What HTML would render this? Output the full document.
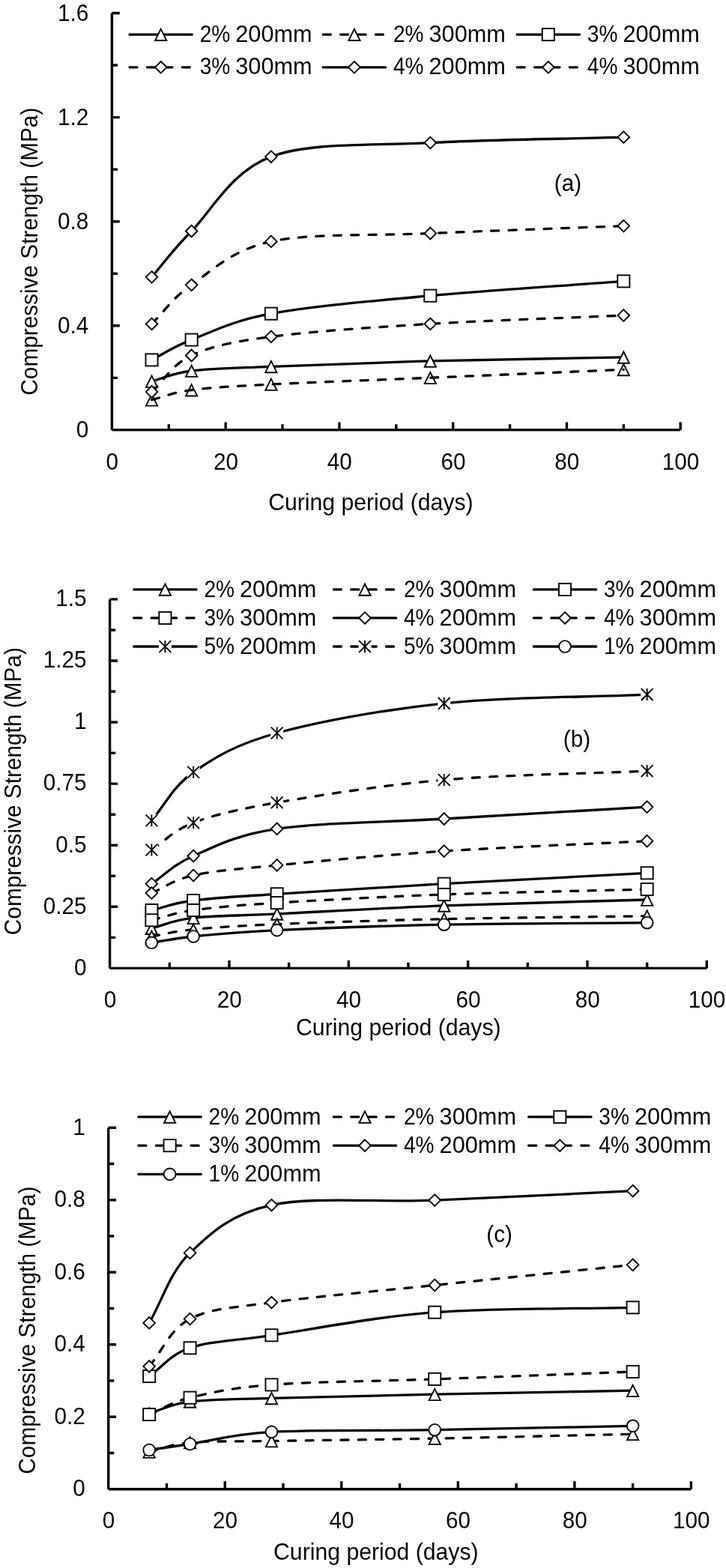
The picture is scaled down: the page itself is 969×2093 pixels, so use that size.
<!DOCTYPE html>
<html lang="en"><head><meta charset="utf-8"><title>Compressive strength vs curing period</title>
<style>html,body{margin:0;padding:0;background:#fff}svg{display:block}text{font-family:"Liberation Sans",Arial,sans-serif;fill:#050505}</style></head><body>
<svg width="969" height="2093" viewBox="0 0 969 2093">
<rect width="969" height="2093" fill="#fff"/>
<g>
<path d="M202.52 509 C220.22 504.33 229.07 498.28 255.63 495 C282.19 491.72 308.75 491.48 361.86 489.3 C414.98 487.12 495.92 483.97 574.33 481.9 C652.74 479.83 746.32 478.57 832.32 476.9" fill="none" stroke="#050505" stroke-width="3.3" stroke-linecap="round"/>
<path d="M202.52 501.6 L210.12 516.9 L194.92 516.9 Z" fill="#fff" stroke="#050505" stroke-width="1.9" stroke-linejoin="miter"/>
<path d="M255.63 487.6 L263.23 502.9 L248.03 502.9 Z" fill="#fff" stroke="#050505" stroke-width="1.9" stroke-linejoin="miter"/>
<path d="M361.86 481.9 L369.46 497.2 L354.26 497.2 Z" fill="#fff" stroke="#050505" stroke-width="1.9" stroke-linejoin="miter"/>
<path d="M574.33 474.5 L581.93 489.8 L566.73 489.8 Z" fill="#fff" stroke="#050505" stroke-width="1.9" stroke-linejoin="miter"/>
<path d="M832.32 469.5 L839.92 484.8 L824.72 484.8 Z" fill="#fff" stroke="#050505" stroke-width="1.9" stroke-linejoin="miter"/>
<path d="M202.52 533.7 C220.22 529.33 229.07 524.05 255.63 520.6 C282.19 517.15 308.75 515.73 361.86 513 C414.98 510.27 495.92 507.48 574.33 504.2 C652.74 500.92 746.32 496.93 832.32 493.3" fill="none" stroke="#050505" stroke-width="3.3" stroke-linecap="round" stroke-dasharray="10.1 13.3"/>
<path d="M202.52 526.3 L210.12 541.6 L194.92 541.6 Z" fill="none" stroke="#050505" stroke-width="1.9" stroke-linejoin="miter"/>
<path d="M255.63 513.2 L263.23 528.5 L248.03 528.5 Z" fill="none" stroke="#050505" stroke-width="1.9" stroke-linejoin="miter"/>
<path d="M361.86 505.6 L369.46 520.9 L354.26 520.9 Z" fill="none" stroke="#050505" stroke-width="1.9" stroke-linejoin="miter"/>
<path d="M574.33 496.8 L581.93 512.1 L566.73 512.1 Z" fill="none" stroke="#050505" stroke-width="1.9" stroke-linejoin="miter"/>
<path d="M832.32 485.9 L839.92 501.2 L824.72 501.2 Z" fill="none" stroke="#050505" stroke-width="1.9" stroke-linejoin="miter"/>
<path d="M202.52 480.4 C220.22 471.47 229.07 463.88 255.63 453.6 C282.19 443.32 308.75 428.52 361.86 418.7 C414.98 408.88 495.92 401.92 574.33 394.7 C652.74 387.48 746.32 381.83 832.32 375.4" fill="none" stroke="#050505" stroke-width="3.3" stroke-linecap="round"/>
<rect x="194.47" y="472.35" width="16.1" height="16.1" fill="#fff" stroke="#050505" stroke-width="1.9" stroke-linejoin="miter"/>
<rect x="247.58" y="445.55" width="16.1" height="16.1" fill="#fff" stroke="#050505" stroke-width="1.9" stroke-linejoin="miter"/>
<rect x="353.81" y="410.65" width="16.1" height="16.1" fill="#fff" stroke="#050505" stroke-width="1.9" stroke-linejoin="miter"/>
<rect x="566.28" y="386.65" width="16.1" height="16.1" fill="#fff" stroke="#050505" stroke-width="1.9" stroke-linejoin="miter"/>
<rect x="824.27" y="367.35" width="16.1" height="16.1" fill="#fff" stroke="#050505" stroke-width="1.9" stroke-linejoin="miter"/>
<path d="M202.52 523 C220.22 506.83 229.07 486.77 255.63 474.5 C282.19 462.23 308.75 456.43 361.86 449.4 C414.98 442.37 495.92 437.03 574.33 432.3 C652.74 427.57 746.32 424.77 832.32 421" fill="none" stroke="#050505" stroke-width="3.3" stroke-linecap="round" stroke-dasharray="10.1 13.3"/>
<path d="M202.52 515.2 L210.32 523 L202.52 530.8 L194.72 523 Z" fill="#fff" stroke="#050505" stroke-width="1.9" stroke-linejoin="miter"/>
<path d="M255.63 466.7 L263.43 474.5 L255.63 482.3 L247.83 474.5 Z" fill="#fff" stroke="#050505" stroke-width="1.9" stroke-linejoin="miter"/>
<path d="M361.86 441.6 L369.66 449.4 L361.86 457.2 L354.06 449.4 Z" fill="#fff" stroke="#050505" stroke-width="1.9" stroke-linejoin="miter"/>
<path d="M574.33 424.5 L582.13 432.3 L574.33 440.1 L566.53 432.3 Z" fill="#fff" stroke="#050505" stroke-width="1.9" stroke-linejoin="miter"/>
<path d="M832.32 413.2 L840.12 421 L832.32 428.8 L824.52 421 Z" fill="#fff" stroke="#050505" stroke-width="1.9" stroke-linejoin="miter"/>
<path d="M202.52 369.8 C220.22 349.37 229.07 335.28 255.63 308.5 C282.19 281.72 308.75 228.75 361.86 209.1 C414.98 189.45 495.92 194.92 574.33 190.6 C652.74 186.28 746.32 185.67 832.32 183.2" fill="none" stroke="#050505" stroke-width="3.3" stroke-linecap="round"/>
<path d="M202.52 362 L210.32 369.8 L202.52 377.6 L194.72 369.8 Z" fill="#fff" stroke="#050505" stroke-width="1.9" stroke-linejoin="miter"/>
<path d="M255.63 300.7 L263.43 308.5 L255.63 316.3 L247.83 308.5 Z" fill="#fff" stroke="#050505" stroke-width="1.9" stroke-linejoin="miter"/>
<path d="M361.86 201.3 L369.66 209.1 L361.86 216.9 L354.06 209.1 Z" fill="#fff" stroke="#050505" stroke-width="1.9" stroke-linejoin="miter"/>
<path d="M574.33 182.8 L582.13 190.6 L574.33 198.4 L566.53 190.6 Z" fill="#fff" stroke="#050505" stroke-width="1.9" stroke-linejoin="miter"/>
<path d="M832.32 175.4 L840.12 183.2 L832.32 191 L824.52 183.2 Z" fill="#fff" stroke="#050505" stroke-width="1.9" stroke-linejoin="miter"/>
<path d="M202.52 432.4 C220.22 415.03 229.07 398.63 255.63 380.3 C282.19 361.97 308.75 333.87 361.86 322.4 C414.98 310.93 495.92 314.97 574.33 311.5 C652.74 308.03 746.32 304.9 832.32 301.6" fill="none" stroke="#050505" stroke-width="3.3" stroke-linecap="round" stroke-dasharray="10.1 13.3"/>
<path d="M202.52 424.6 L210.32 432.4 L202.52 440.2 L194.72 432.4 Z" fill="#fff" stroke="#050505" stroke-width="1.9" stroke-linejoin="miter"/>
<path d="M255.63 372.5 L263.43 380.3 L255.63 388.1 L247.83 380.3 Z" fill="#fff" stroke="#050505" stroke-width="1.9" stroke-linejoin="miter"/>
<path d="M361.86 314.6 L369.66 322.4 L361.86 330.2 L354.06 322.4 Z" fill="#fff" stroke="#050505" stroke-width="1.9" stroke-linejoin="miter"/>
<path d="M574.33 303.7 L582.13 311.5 L574.33 319.3 L566.53 311.5 Z" fill="#fff" stroke="#050505" stroke-width="1.9" stroke-linejoin="miter"/>
<path d="M832.32 293.8 L840.12 301.6 L832.32 309.4 L824.52 301.6 Z" fill="#fff" stroke="#050505" stroke-width="1.9" stroke-linejoin="miter"/>
<path d="M149.4 17.5 V573.9 M149.4 573.9 H908.2" fill="none" stroke="#050505" stroke-width="3.4"/>
<path d="M225.28 573.9 V566.3 M301.16 573.9 V563.5 M377.04 573.9 V566.3 M452.92 573.9 V563.5 M528.8 573.9 V566.3 M604.68 573.9 V563.5 M680.56 573.9 V566.3 M756.44 573.9 V563.5 M832.32 573.9 V566.3 M908.2 573.9 V563.5 M149.4 504.35 H157 M149.4 434.8 H159.8 M149.4 365.25 H157 M149.4 295.7 H159.8 M149.4 226.15 H157 M149.4 156.6 H159.8 M149.4 87.05 H157 M149.4 17.5 H159.8" fill="none" stroke="#050505" stroke-width="3.4"/>
<text transform="translate(118.3 583.9) scale(1 1.055)" text-anchor="end" font-size="29.7">0</text>
<text transform="translate(118.3 444.8) scale(1 1.055)" text-anchor="end" font-size="29.7">0.4</text>
<text transform="translate(118.3 305.7) scale(1 1.055)" text-anchor="end" font-size="29.7">0.8</text>
<text transform="translate(118.3 166.6) scale(1 1.055)" text-anchor="end" font-size="29.7">1.2</text>
<text transform="translate(118.3 27.5) scale(1 1.055)" text-anchor="end" font-size="29.7">1.6</text>
<text transform="translate(149.7 627) scale(1 1.055)" text-anchor="middle" font-size="29.7">0</text>
<text transform="translate(301.46 627) scale(1 1.055)" text-anchor="middle" font-size="29.7">20</text>
<text transform="translate(453.22 627) scale(1 1.055)" text-anchor="middle" font-size="29.7">40</text>
<text transform="translate(604.98 627) scale(1 1.055)" text-anchor="middle" font-size="29.7">60</text>
<text transform="translate(756.74 627) scale(1 1.055)" text-anchor="middle" font-size="29.7">80</text>
<text transform="translate(908.5 627) scale(1 1.055)" text-anchor="middle" font-size="29.7">100</text>
<text transform="translate(494.9 681.3) scale(1 1.055)" text-anchor="middle" font-size="29.7" textLength="273.5" lengthAdjust="spacingAndGlyphs">Curing period (days)</text>
<text transform="translate(49.6 335.7) rotate(-90) scale(1 1.055)" text-anchor="middle" font-size="29.7" textLength="384" lengthAdjust="spacingAndGlyphs">Compressive Strength (MPa)</text>
<text transform="translate(758 254.5) scale(1 1.055)" text-anchor="middle" font-size="29.7">(a)</text>
<path d="M173 46.1 H256.4" fill="none" stroke="#050505" stroke-width="3.3" stroke-linecap="round"/>
<path d="M214.7 38.7 L222.3 54 L207.1 54 Z" fill="#fff" stroke="#050505" stroke-width="1.9" stroke-linejoin="miter"/>
<text transform="translate(266.7 55.7) scale(1 1.055)" font-size="29.7"><tspan x="0" textLength="40.6" lengthAdjust="spacingAndGlyphs">2%</tspan> <tspan x="47.6" textLength="102.4" lengthAdjust="spacingAndGlyphs">200mm</tspan></text>
<path d="M431.2 46.1 H514.6" fill="none" stroke="#050505" stroke-width="3.3" stroke-linecap="round" stroke-dasharray="10.1 13.3"/>
<path d="M472.9 38.7 L480.5 54 L465.3 54 Z" fill="#fff" stroke="#050505" stroke-width="1.9" stroke-linejoin="miter"/>
<text transform="translate(524.9 55.7) scale(1 1.055)" font-size="29.7"><tspan x="0" textLength="40.6" lengthAdjust="spacingAndGlyphs">2%</tspan> <tspan x="47.6" textLength="102.4" lengthAdjust="spacingAndGlyphs">300mm</tspan></text>
<path d="M690.1 46.1 H773.5" fill="none" stroke="#050505" stroke-width="3.3" stroke-linecap="round"/>
<rect x="723.75" y="38.05" width="16.1" height="16.1" fill="#fff" stroke="#050505" stroke-width="1.9" stroke-linejoin="miter"/>
<text transform="translate(783.8 55.7) scale(1 1.055)" font-size="29.7"><tspan x="0" textLength="40.6" lengthAdjust="spacingAndGlyphs">3%</tspan> <tspan x="47.6" textLength="102.4" lengthAdjust="spacingAndGlyphs">200mm</tspan></text>
<path d="M173 89.8 H256.4" fill="none" stroke="#050505" stroke-width="3.3" stroke-linecap="round" stroke-dasharray="10.1 13.3"/>
<path d="M214.7 82 L222.5 89.8 L214.7 97.6 L206.9 89.8 Z" fill="#fff" stroke="#050505" stroke-width="1.9" stroke-linejoin="miter"/>
<text transform="translate(266.7 99.4) scale(1 1.055)" font-size="29.7"><tspan x="0" textLength="40.6" lengthAdjust="spacingAndGlyphs">3%</tspan> <tspan x="47.6" textLength="102.4" lengthAdjust="spacingAndGlyphs">300mm</tspan></text>
<path d="M431.2 89.8 H514.6" fill="none" stroke="#050505" stroke-width="3.3" stroke-linecap="round"/>
<path d="M472.9 82 L480.7 89.8 L472.9 97.6 L465.1 89.8 Z" fill="#fff" stroke="#050505" stroke-width="1.9" stroke-linejoin="miter"/>
<text transform="translate(524.9 99.4) scale(1 1.055)" font-size="29.7"><tspan x="0" textLength="40.6" lengthAdjust="spacingAndGlyphs">4%</tspan> <tspan x="47.6" textLength="102.4" lengthAdjust="spacingAndGlyphs">200mm</tspan></text>
<path d="M690.1 89.8 H773.5" fill="none" stroke="#050505" stroke-width="3.3" stroke-linecap="round" stroke-dasharray="10.1 13.3"/>
<path d="M731.8 82 L739.6 89.8 L731.8 97.6 L724 89.8 Z" fill="#fff" stroke="#050505" stroke-width="1.9" stroke-linejoin="miter"/>
<text transform="translate(783.8 99.4) scale(1 1.055)" font-size="29.7"><tspan x="0" textLength="40.6" lengthAdjust="spacingAndGlyphs">4%</tspan> <tspan x="47.6" textLength="102.4" lengthAdjust="spacingAndGlyphs">300mm</tspan></text>
</g>
<g>
<path d="M202.37 1239.1 C220.96 1234.47 230.25 1228.4 258.14 1225.2 C286.02 1222 313.91 1222.62 369.68 1219.9 C425.44 1217.18 510.43 1212.05 592.75 1208.9 C675.08 1205.75 773.34 1203.63 863.63 1201" fill="none" stroke="#050505" stroke-width="3.3" stroke-linecap="round"/>
<path d="M202.37 1231.7 L209.97 1247 L194.77 1247 Z" fill="#fff" stroke="#050505" stroke-width="1.9" stroke-linejoin="miter"/>
<path d="M258.14 1217.8 L265.74 1233.1 L250.54 1233.1 Z" fill="#fff" stroke="#050505" stroke-width="1.9" stroke-linejoin="miter"/>
<path d="M369.68 1212.5 L377.28 1227.8 L362.08 1227.8 Z" fill="#fff" stroke="#050505" stroke-width="1.9" stroke-linejoin="miter"/>
<path d="M592.75 1201.5 L600.35 1216.8 L585.15 1216.8 Z" fill="#fff" stroke="#050505" stroke-width="1.9" stroke-linejoin="miter"/>
<path d="M863.63 1193.6 L871.23 1208.9 L856.03 1208.9 Z" fill="#fff" stroke="#050505" stroke-width="1.9" stroke-linejoin="miter"/>
<path d="M202.37 1250 C220.96 1246.9 230.25 1243.43 258.14 1240.7 C286.02 1237.97 313.91 1235.93 369.68 1233.6 C425.44 1231.27 510.43 1228.5 592.75 1226.7 C675.08 1224.9 773.34 1224.1 863.63 1222.8" fill="none" stroke="#050505" stroke-width="3.3" stroke-linecap="round" stroke-dasharray="10.1 13.3"/>
<path d="M202.37 1242.6 L209.97 1257.9 L194.77 1257.9 Z" fill="#fff" stroke="#050505" stroke-width="1.9" stroke-linejoin="miter"/>
<path d="M258.14 1233.3 L265.74 1248.6 L250.54 1248.6 Z" fill="#fff" stroke="#050505" stroke-width="1.9" stroke-linejoin="miter"/>
<path d="M369.68 1226.2 L377.28 1241.5 L362.08 1241.5 Z" fill="#fff" stroke="#050505" stroke-width="1.9" stroke-linejoin="miter"/>
<path d="M592.75 1219.3 L600.35 1234.6 L585.15 1234.6 Z" fill="#fff" stroke="#050505" stroke-width="1.9" stroke-linejoin="miter"/>
<path d="M863.63 1215.4 L871.23 1230.7 L856.03 1230.7 Z" fill="#fff" stroke="#050505" stroke-width="1.9" stroke-linejoin="miter"/>
<path d="M202.37 1215 C220.96 1210.67 230.25 1205.62 258.14 1202 C286.02 1198.38 313.91 1197.02 369.68 1193.3 C425.44 1189.58 510.43 1184.37 592.75 1179.7 C675.08 1175.03 773.34 1170.1 863.63 1165.3" fill="none" stroke="#050505" stroke-width="3.3" stroke-linecap="round"/>
<rect x="194.32" y="1206.95" width="16.1" height="16.1" fill="#fff" stroke="#050505" stroke-width="1.9" stroke-linejoin="miter"/>
<rect x="250.09" y="1193.95" width="16.1" height="16.1" fill="#fff" stroke="#050505" stroke-width="1.9" stroke-linejoin="miter"/>
<rect x="361.63" y="1185.25" width="16.1" height="16.1" fill="#fff" stroke="#050505" stroke-width="1.9" stroke-linejoin="miter"/>
<rect x="584.7" y="1171.65" width="16.1" height="16.1" fill="#fff" stroke="#050505" stroke-width="1.9" stroke-linejoin="miter"/>
<rect x="855.58" y="1157.25" width="16.1" height="16.1" fill="#fff" stroke="#050505" stroke-width="1.9" stroke-linejoin="miter"/>
<path d="M202.37 1228.3 C220.96 1223.87 230.25 1218.87 258.14 1215 C286.02 1211.13 313.91 1208.6 369.68 1205.1 C425.44 1201.6 510.43 1197 592.75 1194 C675.08 1191 773.34 1189.4 863.63 1187.1" fill="none" stroke="#050505" stroke-width="3.3" stroke-linecap="round" stroke-dasharray="10.1 13.3"/>
<rect x="194.32" y="1220.25" width="16.1" height="16.1" fill="#fff" stroke="#050505" stroke-width="1.9" stroke-linejoin="miter"/>
<rect x="250.09" y="1206.95" width="16.1" height="16.1" fill="#fff" stroke="#050505" stroke-width="1.9" stroke-linejoin="miter"/>
<rect x="361.63" y="1197.05" width="16.1" height="16.1" fill="#fff" stroke="#050505" stroke-width="1.9" stroke-linejoin="miter"/>
<rect x="584.7" y="1185.95" width="16.1" height="16.1" fill="#fff" stroke="#050505" stroke-width="1.9" stroke-linejoin="miter"/>
<rect x="855.58" y="1179.05" width="16.1" height="16.1" fill="#fff" stroke="#050505" stroke-width="1.9" stroke-linejoin="miter"/>
<path d="M202.37 1179.7 C220.96 1167.3 230.25 1154.73 258.14 1142.5 C286.02 1130.27 313.91 1114.55 369.68 1106.3 C425.44 1098.05 510.43 1097.87 592.75 1093 C675.08 1088.13 773.34 1082.4 863.63 1077.1" fill="none" stroke="#050505" stroke-width="3.3" stroke-linecap="round"/>
<path d="M202.37 1171.9 L210.17 1179.7 L202.37 1187.5 L194.57 1179.7 Z" fill="#fff" stroke="#050505" stroke-width="1.9" stroke-linejoin="miter"/>
<path d="M258.14 1134.7 L265.94 1142.5 L258.14 1150.3 L250.34 1142.5 Z" fill="#fff" stroke="#050505" stroke-width="1.9" stroke-linejoin="miter"/>
<path d="M369.68 1098.5 L377.48 1106.3 L369.68 1114.1 L361.88 1106.3 Z" fill="#fff" stroke="#050505" stroke-width="1.9" stroke-linejoin="miter"/>
<path d="M592.75 1085.2 L600.55 1093 L592.75 1100.8 L584.95 1093 Z" fill="#fff" stroke="#050505" stroke-width="1.9" stroke-linejoin="miter"/>
<path d="M863.63 1069.3 L871.43 1077.1 L863.63 1084.9 L855.83 1077.1 Z" fill="#fff" stroke="#050505" stroke-width="1.9" stroke-linejoin="miter"/>
<path d="M202.37 1192.1 C220.96 1184.23 230.25 1174.7 258.14 1168.5 C286.02 1162.3 313.91 1160.3 369.68 1154.9 C425.44 1149.5 510.43 1141.47 592.75 1136.1 C675.08 1130.73 773.34 1127.17 863.63 1122.7" fill="none" stroke="#050505" stroke-width="3.3" stroke-linecap="round" stroke-dasharray="10.1 13.3"/>
<path d="M202.37 1184.3 L210.17 1192.1 L202.37 1199.9 L194.57 1192.1 Z" fill="#fff" stroke="#050505" stroke-width="1.9" stroke-linejoin="miter"/>
<path d="M258.14 1160.7 L265.94 1168.5 L258.14 1176.3 L250.34 1168.5 Z" fill="#fff" stroke="#050505" stroke-width="1.9" stroke-linejoin="miter"/>
<path d="M369.68 1147.1 L377.48 1154.9 L369.68 1162.7 L361.88 1154.9 Z" fill="#fff" stroke="#050505" stroke-width="1.9" stroke-linejoin="miter"/>
<path d="M592.75 1128.3 L600.55 1136.1 L592.75 1143.9 L584.95 1136.1 Z" fill="#fff" stroke="#050505" stroke-width="1.9" stroke-linejoin="miter"/>
<path d="M863.63 1114.9 L871.43 1122.7 L863.63 1130.5 L855.83 1122.7 Z" fill="#fff" stroke="#050505" stroke-width="1.9" stroke-linejoin="miter"/>
<path d="M202.37 1095.2 C220.96 1073.73 230.25 1050.25 258.14 1030.8 C286.02 1011.35 313.91 993.82 369.68 978.5 C425.44 963.18 510.43 947.47 592.75 938.9 C675.08 930.33 773.34 931.03 863.63 927.1" fill="none" stroke="#050505" stroke-width="3.3" stroke-linecap="round"/>
<rect x="193.87" y="1086.7" width="17" height="17" fill="#fff"/><path d="M194.47 1087.3 L210.27 1103.1 M194.47 1103.1 L210.27 1087.3 M202.37 1087.2 L202.37 1103.2" fill="none" stroke="#050505" stroke-width="1.9"/>
<rect x="249.64" y="1022.3" width="17" height="17" fill="#fff"/><path d="M250.24 1022.9 L266.04 1038.7 M250.24 1038.7 L266.04 1022.9 M258.14 1022.8 L258.14 1038.8" fill="none" stroke="#050505" stroke-width="1.9"/>
<rect x="361.18" y="970" width="17" height="17" fill="#fff"/><path d="M361.78 970.6 L377.58 986.4 M361.78 986.4 L377.58 970.6 M369.68 970.5 L369.68 986.5" fill="none" stroke="#050505" stroke-width="1.9"/>
<rect x="584.25" y="930.4" width="17" height="17" fill="#fff"/><path d="M584.85 931 L600.65 946.8 M584.85 946.8 L600.65 931 M592.75 930.9 L592.75 946.9" fill="none" stroke="#050505" stroke-width="1.9"/>
<rect x="855.13" y="918.6" width="17" height="17" fill="#fff"/><path d="M855.73 919.2 L871.53 935 M855.73 935 L871.53 919.2 M863.63 919.1 L863.63 935.1" fill="none" stroke="#050505" stroke-width="1.9"/>
<path d="M202.37 1134.5 C220.96 1122.43 230.25 1108.83 258.14 1098.3 C286.02 1087.77 313.91 1080.85 369.68 1071.3 C425.44 1061.75 510.43 1048.03 592.75 1041 C675.08 1033.97 773.34 1033.07 863.63 1029.1" fill="none" stroke="#050505" stroke-width="3.3" stroke-linecap="round" stroke-dasharray="10.1 13.3"/>
<rect x="193.87" y="1126" width="17" height="17" fill="#fff"/><path d="M194.47 1126.6 L210.27 1142.4 M194.47 1142.4 L210.27 1126.6 M202.37 1126.5 L202.37 1142.5" fill="none" stroke="#050505" stroke-width="1.9"/>
<rect x="249.64" y="1089.8" width="17" height="17" fill="#fff"/><path d="M250.24 1090.4 L266.04 1106.2 M250.24 1106.2 L266.04 1090.4 M258.14 1090.3 L258.14 1106.3" fill="none" stroke="#050505" stroke-width="1.9"/>
<rect x="361.18" y="1062.8" width="17" height="17" fill="#fff"/><path d="M361.78 1063.4 L377.58 1079.2 M361.78 1079.2 L377.58 1063.4 M369.68 1063.3 L369.68 1079.3" fill="none" stroke="#050505" stroke-width="1.9"/>
<rect x="584.25" y="1032.5" width="17" height="17" fill="#fff"/><path d="M584.85 1033.1 L600.65 1048.9 M584.85 1048.9 L600.65 1033.1 M592.75 1033 L592.75 1049" fill="none" stroke="#050505" stroke-width="1.9"/>
<rect x="855.13" y="1020.6" width="17" height="17" fill="#fff"/><path d="M855.73 1021.2 L871.53 1037 M855.73 1037 L871.53 1021.2 M863.63 1021.1 L863.63 1037.1" fill="none" stroke="#050505" stroke-width="1.9"/>
<path d="M202.37 1258.3 C220.96 1255.53 230.25 1252.78 258.14 1250 C286.02 1247.22 313.91 1244.23 369.68 1241.6 C425.44 1238.97 510.43 1235.85 592.75 1234.2 C675.08 1232.55 773.34 1232.53 863.63 1231.7" fill="none" stroke="#050505" stroke-width="3.3" stroke-linecap="round"/>
<circle cx="202.37" cy="1258.3" r="7.85" fill="#fff" stroke="#050505" stroke-width="1.9" stroke-linejoin="miter"/>
<circle cx="258.14" cy="1250" r="7.85" fill="#fff" stroke="#050505" stroke-width="1.9" stroke-linejoin="miter"/>
<circle cx="369.68" cy="1241.6" r="7.85" fill="#fff" stroke="#050505" stroke-width="1.9" stroke-linejoin="miter"/>
<circle cx="592.75" cy="1234.2" r="7.85" fill="#fff" stroke="#050505" stroke-width="1.9" stroke-linejoin="miter"/>
<circle cx="863.63" cy="1231.7" r="7.85" fill="#fff" stroke="#050505" stroke-width="1.9" stroke-linejoin="miter"/>
<path d="M146.6 799.9 V1292.4 M146.6 1292.4 H943.3" fill="none" stroke="#050505" stroke-width="3.4"/>
<path d="M226.27 1292.4 V1284.8 M305.94 1292.4 V1282 M385.61 1292.4 V1284.8 M465.28 1292.4 V1282 M544.95 1292.4 V1284.8 M624.62 1292.4 V1282 M704.29 1292.4 V1284.8 M783.96 1292.4 V1282 M863.63 1292.4 V1284.8 M943.3 1292.4 V1282 M146.6 1251.36 H154.2 M146.6 1210.32 H157 M146.6 1169.28 H154.2 M146.6 1128.23 H157 M146.6 1087.19 H154.2 M146.6 1046.15 H157 M146.6 1005.11 H154.2 M146.6 964.07 H157 M146.6 923.03 H154.2 M146.6 881.98 H157 M146.6 840.94 H154.2 M146.6 799.9 H157" fill="none" stroke="#050505" stroke-width="3.4"/>
<text transform="translate(115.5 1301.7) scale(1 1.055)" text-anchor="end" font-size="29.7">0</text>
<text transform="translate(115.5 1219.62) scale(1 1.055)" text-anchor="end" font-size="29.7">0.25</text>
<text transform="translate(115.5 1137.53) scale(1 1.055)" text-anchor="end" font-size="29.7">0.5</text>
<text transform="translate(115.5 1055.45) scale(1 1.055)" text-anchor="end" font-size="29.7">0.75</text>
<text transform="translate(115.5 973.37) scale(1 1.055)" text-anchor="end" font-size="29.7">1</text>
<text transform="translate(115.5 891.28) scale(1 1.055)" text-anchor="end" font-size="29.7">1.25</text>
<text transform="translate(115.5 809.2) scale(1 1.055)" text-anchor="end" font-size="29.7">1.5</text>
<text transform="translate(146.9 1344.8) scale(1 1.055)" text-anchor="middle" font-size="29.7">0</text>
<text transform="translate(306.24 1344.8) scale(1 1.055)" text-anchor="middle" font-size="29.7">20</text>
<text transform="translate(465.58 1344.8) scale(1 1.055)" text-anchor="middle" font-size="29.7">40</text>
<text transform="translate(624.92 1344.8) scale(1 1.055)" text-anchor="middle" font-size="29.7">60</text>
<text transform="translate(784.26 1344.8) scale(1 1.055)" text-anchor="middle" font-size="29.7">80</text>
<text transform="translate(943.6 1344.8) scale(1 1.055)" text-anchor="middle" font-size="29.7">100</text>
<text transform="translate(531.8 1382.3) scale(1 1.055)" text-anchor="middle" font-size="29.7" textLength="273.5" lengthAdjust="spacingAndGlyphs">Curing period (days)</text>
<text transform="translate(27.6 1056.2) rotate(-90) scale(1 1.055)" text-anchor="middle" font-size="29.7" textLength="384" lengthAdjust="spacingAndGlyphs">Compressive Strength (MPa)</text>
<text transform="translate(770 996.5) scale(1 1.055)" text-anchor="middle" font-size="29.7">(b)</text>
<path d="M178.7 786.9 H262.1" fill="none" stroke="#050505" stroke-width="3.3" stroke-linecap="round"/>
<path d="M220.4 779.5 L228 794.8 L212.8 794.8 Z" fill="#fff" stroke="#050505" stroke-width="1.9" stroke-linejoin="miter"/>
<text transform="translate(272.4 796.5) scale(1 1.055)" font-size="29.7"><tspan x="0" textLength="40.6" lengthAdjust="spacingAndGlyphs">2%</tspan> <tspan x="47.6" textLength="102.4" lengthAdjust="spacingAndGlyphs">200mm</tspan></text>
<path d="M445.3 786.9 H528.7" fill="none" stroke="#050505" stroke-width="3.3" stroke-linecap="round" stroke-dasharray="10.1 13.3"/>
<path d="M487 779.5 L494.6 794.8 L479.4 794.8 Z" fill="#fff" stroke="#050505" stroke-width="1.9" stroke-linejoin="miter"/>
<text transform="translate(539 796.5) scale(1 1.055)" font-size="29.7"><tspan x="0" textLength="40.6" lengthAdjust="spacingAndGlyphs">2%</tspan> <tspan x="47.6" textLength="102.4" lengthAdjust="spacingAndGlyphs">300mm</tspan></text>
<path d="M712.3 786.9 H795.7" fill="none" stroke="#050505" stroke-width="3.3" stroke-linecap="round"/>
<rect x="745.95" y="778.85" width="16.1" height="16.1" fill="#fff" stroke="#050505" stroke-width="1.9" stroke-linejoin="miter"/>
<text transform="translate(806 796.5) scale(1 1.055)" font-size="29.7"><tspan x="0" textLength="40.6" lengthAdjust="spacingAndGlyphs">3%</tspan> <tspan x="47.6" textLength="102.4" lengthAdjust="spacingAndGlyphs">200mm</tspan></text>
<path d="M178.7 824.9 H262.1" fill="none" stroke="#050505" stroke-width="3.3" stroke-linecap="round" stroke-dasharray="10.1 13.3"/>
<rect x="212.35" y="816.85" width="16.1" height="16.1" fill="#fff" stroke="#050505" stroke-width="1.9" stroke-linejoin="miter"/>
<text transform="translate(272.4 834.5) scale(1 1.055)" font-size="29.7"><tspan x="0" textLength="40.6" lengthAdjust="spacingAndGlyphs">3%</tspan> <tspan x="47.6" textLength="102.4" lengthAdjust="spacingAndGlyphs">300mm</tspan></text>
<path d="M445.3 824.9 H528.7" fill="none" stroke="#050505" stroke-width="3.3" stroke-linecap="round"/>
<path d="M487 817.1 L494.8 824.9 L487 832.7 L479.2 824.9 Z" fill="#fff" stroke="#050505" stroke-width="1.9" stroke-linejoin="miter"/>
<text transform="translate(539 834.5) scale(1 1.055)" font-size="29.7"><tspan x="0" textLength="40.6" lengthAdjust="spacingAndGlyphs">4%</tspan> <tspan x="47.6" textLength="102.4" lengthAdjust="spacingAndGlyphs">200mm</tspan></text>
<path d="M712.3 824.9 H795.7" fill="none" stroke="#050505" stroke-width="3.3" stroke-linecap="round" stroke-dasharray="10.1 13.3"/>
<path d="M754 817.1 L761.8 824.9 L754 832.7 L746.2 824.9 Z" fill="#fff" stroke="#050505" stroke-width="1.9" stroke-linejoin="miter"/>
<text transform="translate(806 834.5) scale(1 1.055)" font-size="29.7"><tspan x="0" textLength="40.6" lengthAdjust="spacingAndGlyphs">4%</tspan> <tspan x="47.6" textLength="102.4" lengthAdjust="spacingAndGlyphs">300mm</tspan></text>
<path d="M178.7 863 H262.1" fill="none" stroke="#050505" stroke-width="3.3" stroke-linecap="round"/>
<rect x="211.9" y="854.5" width="17" height="17" fill="#fff"/><path d="M212.5 855.1 L228.3 870.9 M212.5 870.9 L228.3 855.1 M220.4 855 L220.4 871" fill="none" stroke="#050505" stroke-width="1.9"/>
<text transform="translate(272.4 872.6) scale(1 1.055)" font-size="29.7"><tspan x="0" textLength="40.6" lengthAdjust="spacingAndGlyphs">5%</tspan> <tspan x="47.6" textLength="102.4" lengthAdjust="spacingAndGlyphs">200mm</tspan></text>
<path d="M445.3 863 H528.7" fill="none" stroke="#050505" stroke-width="3.3" stroke-linecap="round" stroke-dasharray="10.1 13.3"/>
<rect x="478.5" y="854.5" width="17" height="17" fill="#fff"/><path d="M479.1 855.1 L494.9 870.9 M479.1 870.9 L494.9 855.1 M487 855 L487 871" fill="none" stroke="#050505" stroke-width="1.9"/>
<text transform="translate(539 872.6) scale(1 1.055)" font-size="29.7"><tspan x="0" textLength="40.6" lengthAdjust="spacingAndGlyphs">5%</tspan> <tspan x="47.6" textLength="102.4" lengthAdjust="spacingAndGlyphs">300mm</tspan></text>
<path d="M712.3 863 H795.7" fill="none" stroke="#050505" stroke-width="3.3" stroke-linecap="round"/>
<circle cx="754" cy="863" r="7.85" fill="#fff" stroke="#050505" stroke-width="1.9" stroke-linejoin="miter"/>
<text transform="translate(806 872.6) scale(1 1.055)" font-size="29.7"><tspan x="0" textLength="40.6" lengthAdjust="spacingAndGlyphs">1%</tspan> <tspan x="47.6" textLength="102.4" lengthAdjust="spacingAndGlyphs">200mm</tspan></text>
</g>
<g>
<path d="M199.14 1886.8 C217.29 1881.5 226.36 1874.32 253.58 1870.9 C280.8 1867.48 308.02 1867.92 362.46 1866.3 C416.9 1864.68 499.85 1862.88 580.21 1861.2 C660.57 1859.52 756.49 1857.87 844.63 1856.2" fill="none" stroke="#050505" stroke-width="3.3" stroke-linecap="round"/>
<path d="M199.14 1879.4 L206.74 1894.7 L191.54 1894.7 Z" fill="#fff" stroke="#050505" stroke-width="1.9" stroke-linejoin="miter"/>
<path d="M253.58 1863.5 L261.18 1878.8 L245.98 1878.8 Z" fill="#fff" stroke="#050505" stroke-width="1.9" stroke-linejoin="miter"/>
<path d="M362.46 1858.9 L370.06 1874.2 L354.86 1874.2 Z" fill="#fff" stroke="#050505" stroke-width="1.9" stroke-linejoin="miter"/>
<path d="M580.21 1853.8 L587.81 1869.1 L572.61 1869.1 Z" fill="#fff" stroke="#050505" stroke-width="1.9" stroke-linejoin="miter"/>
<path d="M844.63 1848.8 L852.23 1864.1 L837.03 1864.1 Z" fill="#fff" stroke="#050505" stroke-width="1.9" stroke-linejoin="miter"/>
<path d="M199.14 1938 C217.29 1933.83 226.36 1927.92 253.58 1925.5 C280.8 1923.08 308.02 1924.4 362.46 1923.5 C416.9 1922.6 499.85 1921.65 580.21 1920.1 C660.57 1918.55 756.49 1916.17 844.63 1914.2" fill="none" stroke="#050505" stroke-width="3.3" stroke-linecap="round" stroke-dasharray="10.1 13.3"/>
<path d="M199.14 1930.6 L206.74 1945.9 L191.54 1945.9 Z" fill="#fff" stroke="#050505" stroke-width="1.9" stroke-linejoin="miter"/>
<path d="M253.58 1918.1 L261.18 1933.4 L245.98 1933.4 Z" fill="#fff" stroke="#050505" stroke-width="1.9" stroke-linejoin="miter"/>
<path d="M362.46 1916.1 L370.06 1931.4 L354.86 1931.4 Z" fill="#fff" stroke="#050505" stroke-width="1.9" stroke-linejoin="miter"/>
<path d="M580.21 1912.7 L587.81 1928 L572.61 1928 Z" fill="#fff" stroke="#050505" stroke-width="1.9" stroke-linejoin="miter"/>
<path d="M844.63 1906.8 L852.23 1922.1 L837.03 1922.1 Z" fill="#fff" stroke="#050505" stroke-width="1.9" stroke-linejoin="miter"/>
<path d="M199.14 1837.1 C217.29 1824.5 226.36 1808.43 253.58 1799.3 C280.8 1790.17 308.02 1790.23 362.46 1782.3 C416.9 1774.37 499.85 1757.87 580.21 1751.7 C660.57 1745.53 756.49 1747.43 844.63 1745.3" fill="none" stroke="#050505" stroke-width="3.3" stroke-linecap="round"/>
<rect x="191.09" y="1829.05" width="16.1" height="16.1" fill="#fff" stroke="#050505" stroke-width="1.9" stroke-linejoin="miter"/>
<rect x="245.53" y="1791.25" width="16.1" height="16.1" fill="#fff" stroke="#050505" stroke-width="1.9" stroke-linejoin="miter"/>
<rect x="354.41" y="1774.25" width="16.1" height="16.1" fill="#fff" stroke="#050505" stroke-width="1.9" stroke-linejoin="miter"/>
<rect x="572.16" y="1743.65" width="16.1" height="16.1" fill="#fff" stroke="#050505" stroke-width="1.9" stroke-linejoin="miter"/>
<rect x="836.58" y="1737.25" width="16.1" height="16.1" fill="#fff" stroke="#050505" stroke-width="1.9" stroke-linejoin="miter"/>
<path d="M199.14 1888.1 C217.29 1880.63 226.36 1872.32 253.58 1865.7 C280.8 1859.08 308.02 1852.53 362.46 1848.4 C416.9 1844.27 499.85 1843.8 580.21 1840.9 C660.57 1838 756.49 1834.3 844.63 1831" fill="none" stroke="#050505" stroke-width="3.3" stroke-linecap="round" stroke-dasharray="10.1 13.3"/>
<rect x="191.09" y="1880.05" width="16.1" height="16.1" fill="#fff" stroke="#050505" stroke-width="1.9" stroke-linejoin="miter"/>
<rect x="245.53" y="1857.65" width="16.1" height="16.1" fill="#fff" stroke="#050505" stroke-width="1.9" stroke-linejoin="miter"/>
<rect x="354.41" y="1840.35" width="16.1" height="16.1" fill="#fff" stroke="#050505" stroke-width="1.9" stroke-linejoin="miter"/>
<rect x="572.16" y="1832.85" width="16.1" height="16.1" fill="#fff" stroke="#050505" stroke-width="1.9" stroke-linejoin="miter"/>
<rect x="836.58" y="1822.95" width="16.1" height="16.1" fill="#fff" stroke="#050505" stroke-width="1.9" stroke-linejoin="miter"/>
<path d="M199.14 1765.9 C217.29 1734.73 226.36 1698.62 253.58 1672.4 C280.8 1646.18 308.02 1620.32 362.46 1608.6 C416.9 1596.88 499.85 1605.25 580.21 1602.1 C660.57 1598.95 756.49 1593.83 844.63 1589.7" fill="none" stroke="#050505" stroke-width="3.3" stroke-linecap="round"/>
<path d="M199.14 1758.1 L206.94 1765.9 L199.14 1773.7 L191.34 1765.9 Z" fill="#fff" stroke="#050505" stroke-width="1.9" stroke-linejoin="miter"/>
<path d="M253.58 1664.6 L261.38 1672.4 L253.58 1680.2 L245.78 1672.4 Z" fill="#fff" stroke="#050505" stroke-width="1.9" stroke-linejoin="miter"/>
<path d="M362.46 1600.8 L370.26 1608.6 L362.46 1616.4 L354.66 1608.6 Z" fill="#fff" stroke="#050505" stroke-width="1.9" stroke-linejoin="miter"/>
<path d="M580.21 1594.3 L588.01 1602.1 L580.21 1609.9 L572.41 1602.1 Z" fill="#fff" stroke="#050505" stroke-width="1.9" stroke-linejoin="miter"/>
<path d="M844.63 1581.9 L852.43 1589.7 L844.63 1597.5 L836.83 1589.7 Z" fill="#fff" stroke="#050505" stroke-width="1.9" stroke-linejoin="miter"/>
<path d="M199.14 1823.8 C217.29 1802.73 226.36 1774.8 253.58 1760.6 C280.8 1746.4 308.02 1746.12 362.46 1738.6 C416.9 1731.08 499.85 1723.88 580.21 1715.5 C660.57 1707.12 756.49 1697.37 844.63 1688.3" fill="none" stroke="#050505" stroke-width="3.3" stroke-linecap="round" stroke-dasharray="10.1 13.3"/>
<path d="M199.14 1816 L206.94 1823.8 L199.14 1831.6 L191.34 1823.8 Z" fill="#fff" stroke="#050505" stroke-width="1.9" stroke-linejoin="miter"/>
<path d="M253.58 1752.8 L261.38 1760.6 L253.58 1768.4 L245.78 1760.6 Z" fill="#fff" stroke="#050505" stroke-width="1.9" stroke-linejoin="miter"/>
<path d="M362.46 1730.8 L370.26 1738.6 L362.46 1746.4 L354.66 1738.6 Z" fill="#fff" stroke="#050505" stroke-width="1.9" stroke-linejoin="miter"/>
<path d="M580.21 1707.7 L588.01 1715.5 L580.21 1723.3 L572.41 1715.5 Z" fill="#fff" stroke="#050505" stroke-width="1.9" stroke-linejoin="miter"/>
<path d="M844.63 1680.5 L852.43 1688.3 L844.63 1696.1 L836.83 1688.3 Z" fill="#fff" stroke="#050505" stroke-width="1.9" stroke-linejoin="miter"/>
<path d="M199.14 1935.5 C208.21 1934.17 226.36 1931.52 253.58 1927.5 C280.8 1923.48 308.02 1914.53 362.46 1911.4 C416.9 1908.27 499.85 1910.05 580.21 1908.7 C660.57 1907.35 756.49 1905.1 844.63 1903.3" fill="none" stroke="#050505" stroke-width="3.3" stroke-linecap="round"/>
<circle cx="199.14" cy="1935.5" r="7.85" fill="#fff" stroke="#050505" stroke-width="1.9" stroke-linejoin="miter"/>
<circle cx="253.58" cy="1927.5" r="7.85" fill="#fff" stroke="#050505" stroke-width="1.9" stroke-linejoin="miter"/>
<circle cx="362.46" cy="1911.4" r="7.85" fill="#fff" stroke="#050505" stroke-width="1.9" stroke-linejoin="miter"/>
<circle cx="580.21" cy="1908.7" r="7.85" fill="#fff" stroke="#050505" stroke-width="1.9" stroke-linejoin="miter"/>
<circle cx="844.63" cy="1903.3" r="7.85" fill="#fff" stroke="#050505" stroke-width="1.9" stroke-linejoin="miter"/>
<path d="M144.7 1505.2 V1987.7 M144.7 1987.7 H922.4" fill="none" stroke="#050505" stroke-width="3.4"/>
<path d="M222.47 1987.7 V1980.1 M300.24 1987.7 V1977.3 M378.01 1987.7 V1980.1 M455.78 1987.7 V1977.3 M533.55 1987.7 V1980.1 M611.32 1987.7 V1977.3 M689.09 1987.7 V1980.1 M766.86 1987.7 V1977.3 M844.63 1987.7 V1980.1 M922.4 1987.7 V1977.3 M144.7 1939.45 H152.3 M144.7 1891.2 H155.1 M144.7 1842.95 H152.3 M144.7 1794.7 H155.1 M144.7 1746.45 H152.3 M144.7 1698.2 H155.1 M144.7 1649.95 H152.3 M144.7 1601.7 H155.1 M144.7 1553.45 H152.3 M144.7 1505.2 H155.1" fill="none" stroke="#050505" stroke-width="3.4"/>
<text transform="translate(113.8 1997) scale(1 1.055)" text-anchor="end" font-size="29.7">0</text>
<text transform="translate(113.8 1900.5) scale(1 1.055)" text-anchor="end" font-size="29.7">0.2</text>
<text transform="translate(113.8 1804) scale(1 1.055)" text-anchor="end" font-size="29.7">0.4</text>
<text transform="translate(113.8 1707.5) scale(1 1.055)" text-anchor="end" font-size="29.7">0.6</text>
<text transform="translate(113.8 1611) scale(1 1.055)" text-anchor="end" font-size="29.7">0.8</text>
<text transform="translate(113.8 1514.5) scale(1 1.055)" text-anchor="end" font-size="29.7">1</text>
<text transform="translate(145 2040.2) scale(1 1.055)" text-anchor="middle" font-size="29.7">0</text>
<text transform="translate(300.54 2040.2) scale(1 1.055)" text-anchor="middle" font-size="29.7">20</text>
<text transform="translate(456.08 2040.2) scale(1 1.055)" text-anchor="middle" font-size="29.7">40</text>
<text transform="translate(611.62 2040.2) scale(1 1.055)" text-anchor="middle" font-size="29.7">60</text>
<text transform="translate(767.16 2040.2) scale(1 1.055)" text-anchor="middle" font-size="29.7">80</text>
<text transform="translate(922.7 2040.2) scale(1 1.055)" text-anchor="middle" font-size="29.7">100</text>
<text transform="translate(501.8 2082.2) scale(1 1.055)" text-anchor="middle" font-size="29.7" textLength="273.5" lengthAdjust="spacingAndGlyphs">Curing period (days)</text>
<text transform="translate(46.8 1775.7) rotate(-90) scale(1 1.055)" text-anchor="middle" font-size="29.7" textLength="384" lengthAdjust="spacingAndGlyphs">Compressive Strength (MPa)</text>
<text transform="translate(666.6 1658) scale(1 1.055)" text-anchor="middle" font-size="29.7">(c)</text>
<path d="M184.9 1490.9 H268.3" fill="none" stroke="#050505" stroke-width="3.3" stroke-linecap="round"/>
<path d="M226.6 1483.5 L234.2 1498.8 L219 1498.8 Z" fill="#fff" stroke="#050505" stroke-width="1.9" stroke-linejoin="miter"/>
<text transform="translate(278.6 1500.5) scale(1 1.055)" font-size="29.7"><tspan x="0" textLength="40.6" lengthAdjust="spacingAndGlyphs">2%</tspan> <tspan x="47.6" textLength="102.4" lengthAdjust="spacingAndGlyphs">200mm</tspan></text>
<path d="M445.3 1490.9 H528.7" fill="none" stroke="#050505" stroke-width="3.3" stroke-linecap="round" stroke-dasharray="10.1 13.3"/>
<path d="M487 1483.5 L494.6 1498.8 L479.4 1498.8 Z" fill="#fff" stroke="#050505" stroke-width="1.9" stroke-linejoin="miter"/>
<text transform="translate(539 1500.5) scale(1 1.055)" font-size="29.7"><tspan x="0" textLength="40.6" lengthAdjust="spacingAndGlyphs">2%</tspan> <tspan x="47.6" textLength="102.4" lengthAdjust="spacingAndGlyphs">300mm</tspan></text>
<path d="M705.6 1490.9 H789" fill="none" stroke="#050505" stroke-width="3.3" stroke-linecap="round"/>
<rect x="739.25" y="1482.85" width="16.1" height="16.1" fill="#fff" stroke="#050505" stroke-width="1.9" stroke-linejoin="miter"/>
<text transform="translate(799.3 1500.5) scale(1 1.055)" font-size="29.7"><tspan x="0" textLength="40.6" lengthAdjust="spacingAndGlyphs">3%</tspan> <tspan x="47.6" textLength="102.4" lengthAdjust="spacingAndGlyphs">200mm</tspan></text>
<path d="M184.9 1529.1 H268.3" fill="none" stroke="#050505" stroke-width="3.3" stroke-linecap="round" stroke-dasharray="10.1 13.3"/>
<rect x="218.55" y="1521.05" width="16.1" height="16.1" fill="#fff" stroke="#050505" stroke-width="1.9" stroke-linejoin="miter"/>
<text transform="translate(278.6 1538.7) scale(1 1.055)" font-size="29.7"><tspan x="0" textLength="40.6" lengthAdjust="spacingAndGlyphs">3%</tspan> <tspan x="47.6" textLength="102.4" lengthAdjust="spacingAndGlyphs">300mm</tspan></text>
<path d="M445.3 1529.1 H528.7" fill="none" stroke="#050505" stroke-width="3.3" stroke-linecap="round"/>
<path d="M487 1521.3 L494.8 1529.1 L487 1536.9 L479.2 1529.1 Z" fill="#fff" stroke="#050505" stroke-width="1.9" stroke-linejoin="miter"/>
<text transform="translate(539 1538.7) scale(1 1.055)" font-size="29.7"><tspan x="0" textLength="40.6" lengthAdjust="spacingAndGlyphs">4%</tspan> <tspan x="47.6" textLength="102.4" lengthAdjust="spacingAndGlyphs">200mm</tspan></text>
<path d="M705.6 1529.1 H789" fill="none" stroke="#050505" stroke-width="3.3" stroke-linecap="round" stroke-dasharray="10.1 13.3"/>
<path d="M747.3 1521.3 L755.1 1529.1 L747.3 1536.9 L739.5 1529.1 Z" fill="#fff" stroke="#050505" stroke-width="1.9" stroke-linejoin="miter"/>
<text transform="translate(799.3 1538.7) scale(1 1.055)" font-size="29.7"><tspan x="0" textLength="40.6" lengthAdjust="spacingAndGlyphs">4%</tspan> <tspan x="47.6" textLength="102.4" lengthAdjust="spacingAndGlyphs">300mm</tspan></text>
<path d="M184.9 1567.4 H268.3" fill="none" stroke="#050505" stroke-width="3.3" stroke-linecap="round"/>
<circle cx="226.6" cy="1567.4" r="7.85" fill="#fff" stroke="#050505" stroke-width="1.9" stroke-linejoin="miter"/>
<text transform="translate(278.6 1577) scale(1 1.055)" font-size="29.7"><tspan x="0" textLength="40.6" lengthAdjust="spacingAndGlyphs">1%</tspan> <tspan x="47.6" textLength="102.4" lengthAdjust="spacingAndGlyphs">200mm</tspan></text>
</g>
</svg></body></html>
